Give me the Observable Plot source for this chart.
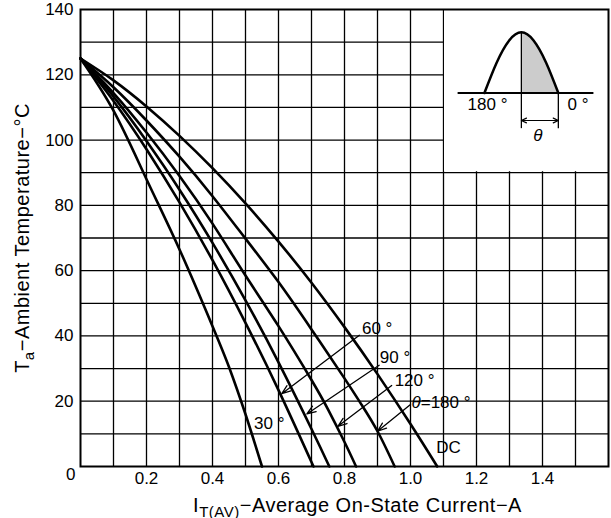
<!DOCTYPE html>
<html><head><meta charset="utf-8">
<script src="https://cdn.jsdelivr.net/npm/d3@7"></script>
<script src="https://cdn.jsdelivr.net/npm/@observablehq/plot@0.6"></script>
<style>body{margin:0;background:#fff;}</style>
</head><body><div id="chart"></div>
<script>
// ---- data ----
const xTicks = [0.2, 0.4, 0.6, 0.8, 1.0, 1.2, 1.4];
const yTicks = [20, 40, 60, 80, 100, 120, 140];
const gridX = [0.1,0.2,0.3,0.4,0.5,0.6,0.7,0.8,0.9,1.0,1.1,1.2,1.3,1.4,1.5];
const gridY = [10,20,30,40,50,60,70,80,90,100,110,120,130];

const i30  = [0, 0.1, 0.2, 0.3, 0.4, 0.45, 0.5, 0.55];
const t30  = [125, 109, 88, 66.5, 43, 30.5, 16, 0];
const i60  = [0, 0.1, 0.2, 0.3, 0.4, 0.5, 0.6, 0.706];
const t60  = [125, 112, 97.2, 80.9, 63.2, 44, 23.4, 0];
const i90  = [0, 0.1, 0.2, 0.3, 0.4, 0.5, 0.6, 0.7, 0.754];
const t90  = [125, 113.3, 99.7, 84.8, 68.5, 50.9, 31.9, 11.5, 0];
const i120 = [0, 0.1, 0.2, 0.3, 0.4, 0.5, 0.6, 0.7, 0.75, 0.8, 0.835];
const t120 = [125, 114.4, 102.3, 89, 74.4, 58.5, 43, 26.5, 17.5, 7.5, 0];
const i180 = [0, 0.1, 0.2, 0.3, 0.4, 0.5, 0.6, 0.7, 0.8, 0.85, 0.9, 0.952];
const t180 = [125, 116.2, 106, 94.9, 82.8, 69.8, 56.5, 42, 27, 19.2, 10.8, 0];
const iDC  = [0, 0.1, 0.2, 0.3, 0.4, 0.5, 0.6, 0.7, 0.8, 0.9, 1.0, 1.081];
const tDC  = [125, 118.3, 110.3, 101.3, 91.4, 80.6, 68.9, 56.3, 42.7, 28.3, 13, 0];

const labelText = ["60 °", "90 °", "120 °", "θ=180 °", "30 °", "DC"];
const labelI    = [0.853, 0.907, 0.952, 1.003, 0.526, 1.078];
const labelT    = [42.2, 33.4, 26.3, 19.6, 13.2, 5.8];
const leaderFromI = [0.845, 0.905, 0.943, 1.0];
const leaderFromT = [40.2, 31.0, 24.8, 19.0];
const leaderToI   = [0.61, 0.686, 0.78, 0.90];
const leaderToT   = [22.3, 16.1, 12.3, 10.8];

// inset diagram
const insetBoxI = [1.1, 1.6];
const insetBoxT = [90, 140];
const waveI = [1.224, 1.261, 1.299, 1.336, 1.373, 1.411, 1.448];
const waveT = [114.4, 123.7, 130.5, 133, 130.5, 123.7, 114.4];
const baseI = [1.145, 1.552];
const baseT = 114.4;
const dimT = 106;
const extBottomT = 103.5;
const insetLabelText = ["180 °", "0 °"];
const insetLabelI = [1.173, 1.476];
const insetLabelT = [110.8, 110.8];
const thetaI = 1.386, thetaT = 101.5;

const xTitle = ["I", "T(AV)", "−Average On-State Current−A"];
const yTitle = ["T", "a", "−Ambient Temperature−°C"];

// ---- build tables ----
const curves = [[i30,t30],[i60,t60],[i90,t90],[i120,t120],[i180,t180],[iDC,tDC]];
const curveRows = curves.flatMap(([I,T], k) => I.map((v, j) => ({I: v, T: T[j], k})));
const labels = labelText.map((s, j) => ({text: s, I: labelI[j], T: labelT[j]}));
const leaders = leaderFromI.map((v, j) => ({x1: v, y1: leaderFromT[j], x2: leaderToI[j], y2: leaderToT[j]}));
const insetRect = [{x1: insetBoxI[0], x2: insetBoxI[1], y1: insetBoxT[0], y2: insetBoxT[1]}];
const wave = waveI.map((v, j) => ({I: v, T: waveT[j]}));
const shade = wave.slice(3).map(d => ({I: d.I, T: d.T, B: baseT}));
const baseline = baseI.map(v => ({I: v, T: baseT}));
const ext = [{x: waveI[3], y1: waveT[3], y2: extBottomT}, {x: waveI[6], y1: waveT[6], y2: extBottomT}];
const mid = (waveI[3] + waveI[6]) / 2;
const dimArrows = [{x1: mid, x2: waveI[3], y: dimT}, {x1: mid, x2: waveI[6], y: dimT}];
const insetLabels = insetLabelText.map((s, j) => ({text: s, I: insetLabelI[j], T: insetLabelT[j]}));
const xTitleFull = xTitle.join("");
const yTitleFull = yTitle.join("");

const font = "'Liberation Sans', Arial, sans-serif";

const chart = Plot.plot({
  width: 611, height: 518,
  marginLeft: 80, marginRight: 3, marginTop: 9, marginBottom: 52,
  style: {fontFamily: font, fontSize: "17px", background: "white", color: "black"},
  x: {domain: [0, 1.6], ticks: xTicks, tickSize: 0, tickPadding: 5, tickFormat: d3.format(".1f"), label: null},
  y: {domain: [0, 140], ticks: yTicks, tickSize: 0, tickPadding: 7, label: null},
  marks: [
    Plot.ruleX(gridX, {stroke: "black", strokeWidth: 1.3}),
    Plot.ruleY(gridY, {stroke: "black", strokeWidth: 1.3}),
    Plot.rect(insetRect, {x1: "x1", x2: "x2", y1: "y1", y2: "y2", fill: "white", insetLeft: 1, insetBottom: 1}),
    Plot.frame({stroke: "black", strokeWidth: 2}),
    Plot.line(curveRows, {x: "I", y: "T", z: "k", curve: "natural", stroke: "black", strokeWidth: 2.6}),
    Plot.arrow(leaders, {x1: "x1", y1: "y1", x2: "x2", y2: "y2", stroke: "black", strokeWidth: 1.3, headLength: 11, headAngle: 40}),
    Plot.text(labels, {x: "I", y: "T", text: "text", textAnchor: "start", fontSize: 17, fill: "black"}),
    // inset
    Plot.areaY(shade, {x: "I", y1: "B", y2: "T", curve: "natural", fill: "#cccccc"}),
    Plot.line(baseline, {x: "I", y: "T", stroke: "black", strokeWidth: 2}),
    Plot.line(wave, {x: "I", y: "T", curve: "natural", stroke: "black", strokeWidth: 2.5}),
    Plot.ruleX(ext, {x: "x", y1: "y1", y2: "y2", stroke: "black", strokeWidth: 1.3}),
    Plot.arrow(dimArrows, {x1: "x1", x2: "x2", y1: "y", y2: "y", stroke: "black", strokeWidth: 1.2, headLength: 7, headAngle: 50}),
    Plot.text(insetLabels, {x: "I", y: "T", text: "text", textAnchor: "start", fontSize: 17, fill: "black"}),
    Plot.text([thetaI], {x: d => d, y: () => thetaT, text: () => "θ", fontSize: 17, fontStyle: "italic", fill: "black"}),
    // origin label
    Plot.text([0], {x: d => d, y: d => d, text: () => "0", textAnchor: "end", dx: -5, dy: 8, fontSize: 17, fill: "black"}),
    // axis titles
    Plot.text([xTitleFull], {frameAnchor: "bottom", text: d => d, textAnchor: "middle", dx: 13, dy: 45, fontSize: 20, fill: "black"}),
    Plot.text([yTitleFull], {frameAnchor: "left", text: d => d, textAnchor: "middle", rotate: -90, dx: -58, dy: 0, fontSize: 20, fill: "black"})
  ]
});

function splitSub(svg, full, parts, subSize, shift) {
  d3.select(svg).selectAll("text").filter(function() { return this.textContent === full; }).each(function() {
    const t = d3.select(this);
    t.text(null).attr("letter-spacing", "0.5px");
    t.append("tspan").text(parts[0]);
    t.append("tspan").attr("dy", shift).attr("font-size", subSize).text(parts[1]);
    t.append("tspan").attr("dy", -shift).text(parts[2]);
  });
}
splitSub(chart, xTitleFull, xTitle, 15, 5);
splitSub(chart, yTitleFull, yTitle, 15, 5);
d3.select(chart).selectAll("text").filter(function() { return this.textContent === labelText[3]; }).each(function() {
  const t = d3.select(this); t.text(null);
  t.append("tspan").attr("font-style", "italic").text("θ");
  t.append("tspan").text("=180 °");
});
document.getElementById("chart").appendChild(chart);
</script>
</body></html>
